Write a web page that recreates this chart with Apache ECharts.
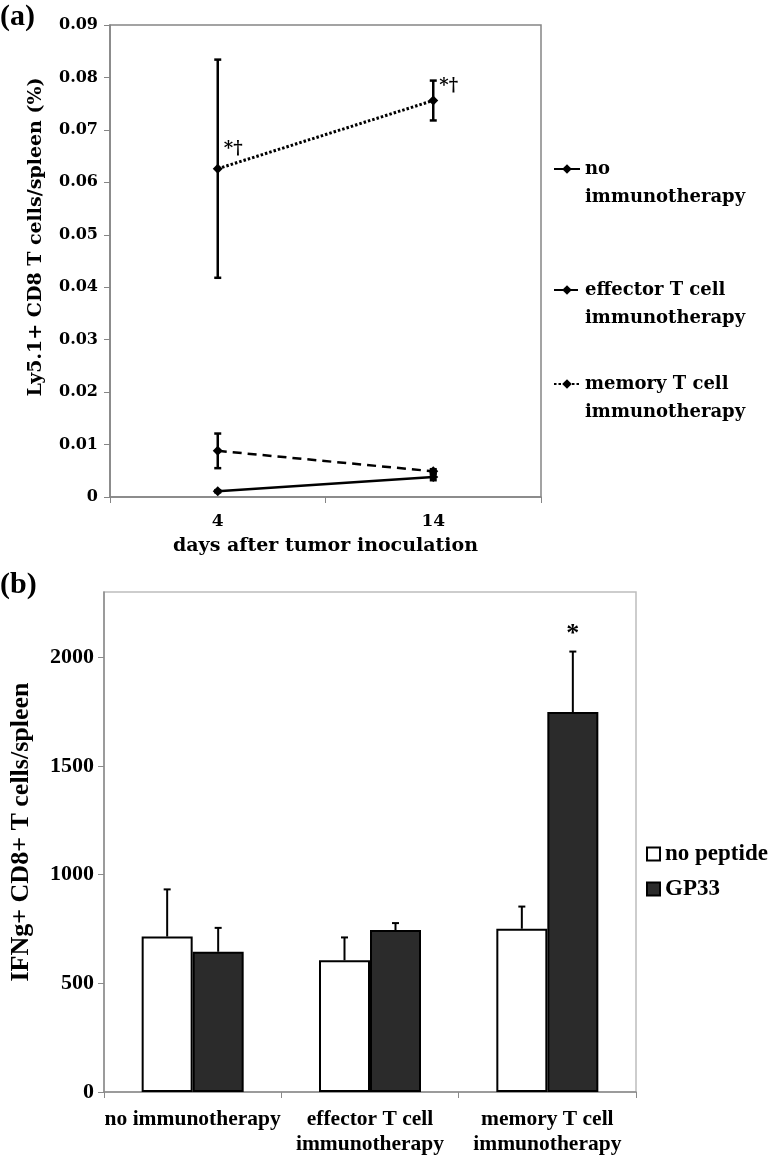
<!DOCTYPE html>
<html>
<head>
<meta charset="utf-8">
<script src="https://cdn.jsdelivr.net/npm/echarts@6/dist/echarts.min.js"></script>
<style>
html,body{margin:0;padding:0;background:#fff;}
#chart{width:774px;height:1157px;}
</style>
</head>
<body>
<div id="chart"></div>
<script>
// ---------- Panel (a) data ----------
const dayCategories = ['4', '14'];
const noImmunoMean = [0.0011, 0.0038];
const noImmunoErr = [0.0002, 0.0006];
const effectorMean = [0.0088, 0.0049];
const effectorErr = [0.0033, 0.0004];
const memoryMean = [0.0626, 0.0756];
const memoryErr = [0.0208, 0.0038];
const memoryMarkY = [0.0663, 0.0783];
const memoryMarkText = ['*†', '*†'];
const topSeriesNames = ['no\nimmunotherapy', 'effector T cell\nimmunotherapy', 'memory T cell\nimmunotherapy'];

// ---------- Panel (b) data ----------
const groupCategories = ['no immunotherapy', 'effector T cell\nimmunotherapy', 'memory T cell\nimmunotherapy'];
const noPeptideVals = [715, 606, 751];
const noPeptideErr = [217, 105, 102];
const gp33Vals = [645, 745, 1748];
const gp33Err = [110, 32, 278];
const bottomSeriesNames = ['no peptide', 'GP33'];
const starCategory = [2];
const starY = [2107];
const starText = ['*'];

const serifA = 'DejaVu Serif';
const serifB = 'Liberation Serif';
const BAR_W = 51;

const chart = echarts.init(document.getElementById('chart'), null, {renderer: 'canvas'});

function errBars(both, offset, lw, capHalf) {
  return function (params, api) {
    const i = api.value(0), m = api.value(1), e = api.value(2);
    const pTop = api.coord([i, m + e]);
    const pBot = api.coord([i, both ? m - e : m]);
    const x = pTop[0] + offset;
    const st = {stroke: '#000', lineWidth: lw};
    const children = [
      {type: 'line', shape: {x1: x, y1: pTop[1], x2: x, y2: pBot[1]}, style: st},
      {type: 'line', shape: {x1: x - capHalf, y1: pTop[1], x2: x + capHalf, y2: pTop[1]}, style: st}
    ];
    if (both) children.push({type: 'line', shape: {x1: x - capHalf, y1: pBot[1], x2: x + capHalf, y2: pBot[1]}, style: st});
    return {type: 'group', children: children};
  };
}
function errData(meanArr, errArr) { return meanArr.map((m, i) => [i, m, errArr[i]]); }

function textRender(texts, dx, font, size, align) {
  return function (params, api) {
    const p = api.coord([api.value(0), api.value(1)]);
    return {type: 'text', x: p[0] + dx, y: p[1],
      style: {text: texts[params.dataIndex], fill: '#000', font: 'bold ' + size + 'px "' + font + '"', align: align, verticalAlign: 'middle'}};
  };
}

const lineCommon = {
  xAxisIndex: 0, yAxisIndex: 0, symbol: 'diamond', symbolSize: 10, z: 3,
  itemStyle: {color: '#000'}
};

const topLegendText = {fontFamily: serifA, fontWeight: 'bold', fontSize: 18, lineHeight: 28, color: '#000'};
const topLegendFmt = name => '\u00a0\n' + name;

const option = {
  backgroundColor: '#fff',
  animation: false,
  graphic: [
    {type: 'text', left: 0, top: 2, style: {text: '(a)', font: 'bold 30px "Liberation Serif"', fill: '#000'}},
    {type: 'text', left: 0, top: 570, style: {text: '(b)', font: 'bold 30px "Liberation Serif"', fill: '#000'}}
  ],
  legend: [
    {data: [topSeriesNames[0]], left: 548, top: 122, itemWidth: 26, itemHeight: 12, formatter: topLegendFmt, textStyle: topLegendText},
    {data: [topSeriesNames[1]], left: 548, top: 243, itemWidth: 26, itemHeight: 12, formatter: topLegendFmt, textStyle: topLegendText},
    {data: [topSeriesNames[2]], left: 548, top: 337, itemWidth: 26, itemHeight: 12, formatter: topLegendFmt, textStyle: topLegendText},
    {data: bottomSeriesNames, orient: 'vertical', left: 641, top: 837, icon: 'rect', itemWidth: 13, itemHeight: 13, itemGap: 11,
     textStyle: {fontFamily: serifB, fontWeight: 'bold', fontSize: 23, lineHeight: 24, color: '#000'}}
  ],
  grid: [
    {left: 110, top: 25, width: 431, height: 472, show: true, borderColor: '#858585', borderWidth: 1.5, backgroundColor: '#fff'},
    {left: 104, top: 592, width: 532, height: 502, show: true, borderColor: '#bdbdbd', borderWidth: 1.5, backgroundColor: '#fff'}
  ],
  xAxis: [
    {type: 'category', gridIndex: 0, data: dayCategories, boundaryGap: true,
     axisLine: {lineStyle: {color: '#858585', width: 1.5}},
     axisTick: {show: true, length: 6, lineStyle: {color: '#858585'}},
     axisLabel: {fontFamily: serifA, fontWeight: 'bold', fontSize: 17, color: '#000', margin: 16},
     name: 'days after tumor inoculation', nameLocation: 'middle', nameGap: 40,
     nameTextStyle: {fontFamily: serifA, fontWeight: 'bold', fontSize: 19, color: '#000'}},
    {type: 'category', gridIndex: 1, data: groupCategories, boundaryGap: true,
     axisLine: {lineStyle: {color: '#8a8a8a', width: 1.5}},
     axisTick: {show: true, length: 6, lineStyle: {color: '#8a8a8a'}},
     axisLabel: {fontFamily: serifB, fontWeight: 'bold', fontSize: 21.5, lineHeight: 25, color: '#000', margin: 15, interval: 0}}
  ],
  yAxis: [
    {type: 'value', gridIndex: 0, min: 0, max: 0.09, interval: 0.01,
     axisLine: {show: true, lineStyle: {color: '#858585', width: 1.5}},
     axisTick: {show: true, length: 6, lineStyle: {color: '#858585'}},
     splitLine: {show: false},
     axisLabel: {fontFamily: serifA, fontWeight: 'bold', fontSize: 16, color: '#000', margin: 12,
       formatter: v => (v === 0 ? '0' : v.toFixed(2))},
     name: 'Ly5.1+ CD8 T cells/spleen (%)', nameLocation: 'middle', nameGap: 64,
     nameTextStyle: {fontFamily: serifA, fontWeight: 'bold', fontSize: 19, color: '#000', padding: [0, 0, 0, 48]}},
    {type: 'value', gridIndex: 1, min: 0, max: 2300, interval: 500,
     axisLine: {show: true, lineStyle: {color: '#8a8a8a', width: 1.5}},
     axisTick: {show: true, length: 6, lineStyle: {color: '#8a8a8a'}},
     splitLine: {show: false},
     axisLabel: {fontFamily: serifB, fontWeight: 'bold', fontSize: 22, color: '#000', margin: 10, showMaxLabel: false,
       formatter: v => String(v)},
     name: 'IFNg+ CD8+ T cells/spleen', nameLocation: 'middle', nameGap: 70,
     nameTextStyle: {fontFamily: serifB, fontWeight: 'bold', fontSize: 26, color: '#000', padding: [0, 0, 0, 20]}}
  ],
  series: [
    Object.assign({}, lineCommon, {type: 'line', name: topSeriesNames[0], data: noImmunoMean,
      lineStyle: {color: '#000', width: 2.5, type: 'solid'}}),
    Object.assign({}, lineCommon, {type: 'line', name: topSeriesNames[1], data: effectorMean,
      lineStyle: {color: '#000', width: 2.5, type: [9, 6]}}),
    Object.assign({}, lineCommon, {type: 'line', name: topSeriesNames[2], data: memoryMean,
      lineStyle: {color: '#000', width: 3, type: [2.5, 2]}}),
    {type: 'custom', xAxisIndex: 0, yAxisIndex: 0, z: 4, silent: true,
     renderItem: errBars(true, 0, 2.5, 3.5), data: errData(noImmunoMean, noImmunoErr)},
    {type: 'custom', xAxisIndex: 0, yAxisIndex: 0, z: 4, silent: true,
     renderItem: errBars(true, 0, 2.5, 3.5), data: errData(effectorMean, effectorErr)},
    {type: 'custom', xAxisIndex: 0, yAxisIndex: 0, z: 4, silent: true,
     renderItem: errBars(true, 0, 2.5, 3.5), data: errData(memoryMean, memoryErr)},
    {type: 'custom', xAxisIndex: 0, yAxisIndex: 0, z: 5, silent: true,
     renderItem: textRender(memoryMarkText, 6, serifA, 18, 'left'), data: memoryMarkY.map((y, i) => [i, y])},

    {type: 'bar', name: bottomSeriesNames[0], xAxisIndex: 1, yAxisIndex: 1, data: noPeptideVals,
     barWidth: BAR_W, barGap: '0%',
     itemStyle: {color: '#ffffff', borderColor: '#000', borderWidth: 2}},
    {type: 'bar', name: bottomSeriesNames[1], xAxisIndex: 1, yAxisIndex: 1, data: gp33Vals,
     barWidth: BAR_W, barGap: '0%',
     itemStyle: {color: '#2b2b2b', borderColor: '#000', borderWidth: 2}},
    {type: 'custom', xAxisIndex: 1, yAxisIndex: 1, z: 4, silent: true,
     renderItem: errBars(false, -BAR_W / 2, 2, 3.5), data: errData(noPeptideVals, noPeptideErr)},
    {type: 'custom', xAxisIndex: 1, yAxisIndex: 1, z: 4, silent: true,
     renderItem: errBars(false, BAR_W / 2, 2, 3.5), data: errData(gp33Vals, gp33Err)},
    {type: 'custom', xAxisIndex: 1, yAxisIndex: 1, z: 5, silent: true,
     renderItem: textRender(starText, BAR_W / 2, serifB, 26, 'center'),
     data: starCategory.map((c, i) => [c, starY[i]])}
  ]
};
chart.setOption(option);
</script>
</body>
</html>
